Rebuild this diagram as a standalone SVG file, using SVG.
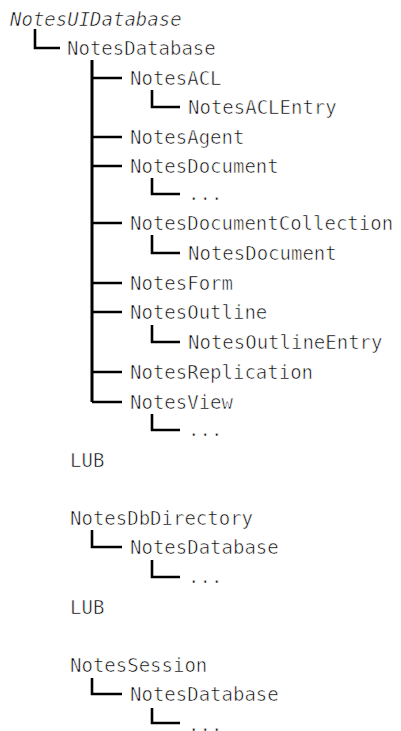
<svg xmlns="http://www.w3.org/2000/svg" width="401" height="731" viewBox="0 0 401 731">
<style>
text{font-family:"DejaVu Sans Mono","Liberation Mono",monospace;font-size:19px;fill:#000;stroke:#fff;stroke-width:0.6;paint-order:normal}
.it{font-style:italic}
.c{fill:none;stroke:#000;stroke-width:2.6}
.t{fill:none;stroke:#000;stroke-width:3}
</style>
<rect width="401" height="731" fill="#fff"/>
<g id="connectors">
<path class="c" d="M35,29 V48 H60"/>
<path class="t" d="M92,60 V402"/>
<path class="c" d="M92,78 H122 M92,137 H122 M92,166 H122 M92,223 H122 M92,283 H122 M92,312 H122 M92,372 H122 M92,402 H122"/>
<path class="c" d="M152,90 V107 H180"/>
<path class="c" d="M152,178 V194 H180"/>
<path class="c" d="M152,235 V253 H180"/>
<path class="c" d="M152,325 V342 H180"/>
<path class="c" d="M152,414 V430 H180"/>
<path class="c" d="M92,530 V547 H122"/>
<path class="c" d="M152,560 V577 H180"/>
<path class="c" d="M92,678 V694 H122"/>
<path class="c" d="M152,708 V723 H180"/>
</g>
<g id="n-uidatabase"><text class="it" x="10" y="26">NotesUIDatabase</text></g>
<g id="n-database"><text x="67" y="55">NotesDatabase</text></g>
<g id="n-acl"><text x="130" y="85">NotesACL</text></g>
<g id="n-aclentry"><text x="188" y="114">NotesACLEntry</text></g>
<g id="n-agent"><text x="130" y="144">NotesAgent</text></g>
<g id="n-document"><text x="130" y="173">NotesDocument</text></g>
<g id="n-document-more"><text x="188" y="200">...</text></g>
<g id="n-doccollection"><text x="130" y="230">NotesDocumentCollection</text></g>
<g id="n-document2"><text x="188" y="260">NotesDocument</text></g>
<g id="n-form"><text x="130" y="290">NotesForm</text></g>
<g id="n-outline"><text x="130" y="319">NotesOutline</text></g>
<g id="n-outlineentry"><text x="188" y="349">NotesOutlineEntry</text></g>
<g id="n-replication"><text x="130" y="379">NotesReplication</text></g>
<g id="n-view"><text x="130" y="409">NotesView</text></g>
<g id="n-view-more"><text x="188" y="436">...</text></g>
<g id="n-lub1"><text x="70" y="467">LUB</text></g>
<g id="n-dbdirectory"><text x="70" y="525">NotesDbDirectory</text></g>
<g id="n-database2"><text x="130" y="554">NotesDatabase</text></g>
<g id="n-database2-more"><text x="188" y="583">...</text></g>
<g id="n-lub2"><text x="70" y="614">LUB</text></g>
<g id="n-session"><text x="70" y="672">NotesSession</text></g>
<g id="n-database3"><text x="130" y="701">NotesDatabase</text></g>
<g id="n-database3-more"><text x="188" y="731">...</text></g>
</svg>
